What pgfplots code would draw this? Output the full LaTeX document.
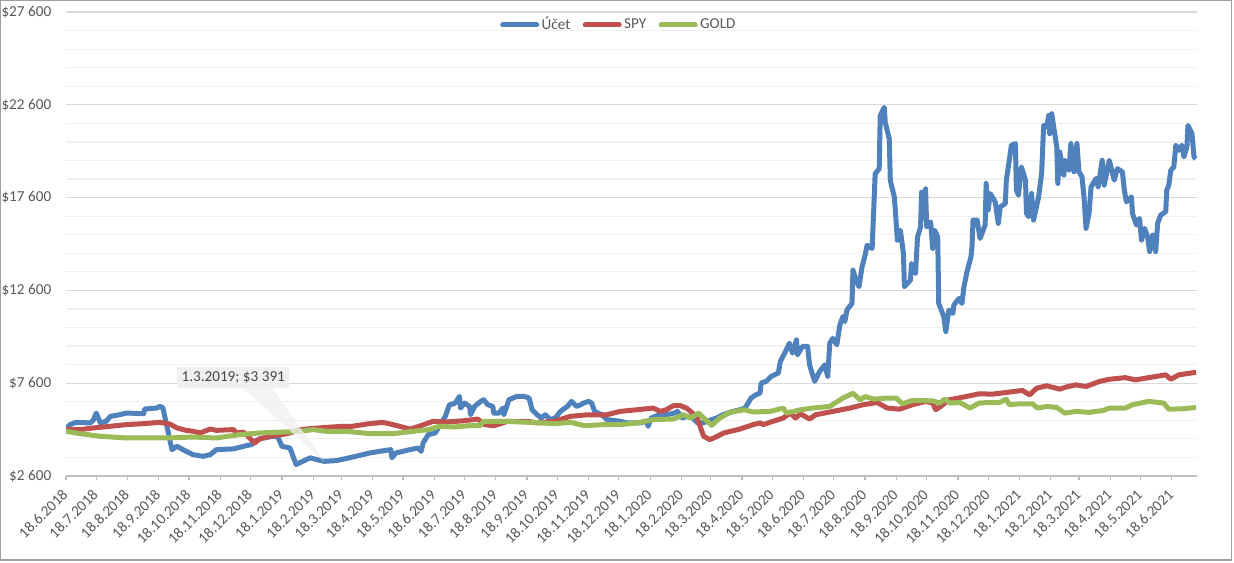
\documentclass[border=0pt]{standalone}
\usepackage{fontspec}
\setmainfont{Carlito}
\usepackage{pgfplots}
\pgfplotsset{compat=1.18}
\definecolor{ucet}{HTML}{4F81BD}
\definecolor{spy}{HTML}{C0504D}
\definecolor{gold}{HTML}{9BBB59}
\definecolor{txt}{HTML}{595959}
\definecolor{majgrid}{HTML}{D9D9D9}
\definecolor{mingrid}{HTML}{F0F0F0}
\definecolor{axgray}{HTML}{BFBFBF}
\definecolor{callout}{HTML}{F0F0F0}
\newcommand{\tfont}{\fontsize{7.6}{9}\selectfont}
\begin{document}
\begin{tikzpicture}[x=1pt,y=1pt]
\path[use as bounding box] (0,0) rectangle (617,281);
\fill[white] (0,0) rectangle (617,281);
\draw[gray!75, line width=0.7pt] (0.35,1) rectangle (615.75,280.65);
\begin{axis}[
  at={(33pt,43pt)}, anchor=south west,
  scale only axis, width=565.5pt, height=232pt,
  xmin=0, xmax=1121, ymin=2600, ymax=27600,
  axis x line=bottom, axis y line=left,
  x axis line style={-, draw=axgray, line width=0.6pt},
  y axis line style={draw=none},
  tick align=outside,
  major tick length=2.2pt,
  xtick style={draw=axgray, line width=0.6pt},
  ytick style={draw=none},
  minor tick style={draw=none},
  xtick={0,30,61,92,122,153,183,214,245,273,304,334,365,395,426,457,487,518,548,579,610,639,670,700,731,761,792,823,853,884,914,945,976,1004,1035,1065,1096},
  xticklabels={18.6.2018,18.7.2018,18.8.2018,18.9.2018,18.10.2018,18.11.2018,18.12.2018,18.1.2019,18.2.2019,18.3.2019,18.4.2019,18.5.2019,18.6.2019,18.7.2019,18.8.2019,18.9.2019,18.10.2019,18.11.2019,18.12.2019,18.1.2020,18.2.2020,18.3.2020,18.4.2020,18.5.2020,18.6.2020,18.7.2020,18.8.2020,18.9.2020,18.10.2020,18.11.2020,18.12.2020,18.1.2021,18.2.2021,18.3.2021,18.4.2021,18.5.2021,18.6.2021},
  xticklabel style={yshift=-5pt, xshift=0.3pt, rotate=45, anchor=east, font=\tfont, text=txt, inner sep=1pt},
  ytick={2600,7600,12600,17600,22600,27600},
  yticklabels={\$2 600,\$7 600,\$12 600,\$17 600,\$22 600,\$27 600},
  minor ytick={3600,4600,5600,6600,8600,9600,10600,11600,13600,14600,15600,16600,18600,19600,20600,21600,23600,24600,25600,26600},
  yticklabel style={font=\tfont, text=txt, anchor=east, inner sep=0pt, xshift=-5pt},
  ymajorgrids, yminorgrids,
  major grid style={draw=majgrid, line width=0.6pt},
  minor grid style={draw=mingrid, line width=0.6pt},
  legend style={at={(0.489,0.972)}, anchor=center, draw=none, fill=none,
    legend columns=3, font=\tfont, text=txt,
    /tikz/every even column/.append style={column sep=5pt},
    nodes={inner xsep=1.2pt, inner ysep=1pt}},
  legend image code/.code={\draw[#1, line cap=round] (0pt,0pt) -- (17pt,0pt);},
  every axis plot/.append style={line width=2.5pt, line join=round},
  clip=true,
]
\addplot[ucet] coordinates {
(0,5150)(4,5370)(10,5490)(24,5460)(27,5600)(30,5990)(34,5460)(40,5550)(44,5815)(53,5900)
(60,5990)(77,5960)(78,6210)(90,6260)(93,6350)(96,6280)(100,5280)(105,4020)(110,4200)(119,3930)
(126,3750)(136,3660)(143,3750)(149,4020)(166,4060)(179,4240)(184,4290)(187,4470)(192,4600)(205,4740)
(210,4700)(214,4200)(222,4110)(228,3220)(235,3400)(242,3580)(248,3490)(256,3391)(268,3430)(281,3580)
(301,3840)(311,3930)(322,4020)(323,3580)(327,3840)(341,4020)(349,4110)(352,3930)(354,4380)(359,4830)
(366,4920)(371,5370)(376,5815)(380,6440)(385,6500)(388,6710)(390,6890)(391,6260)(395,6530)(400,6350)
(401,5900)(405,6350)(411,6620)(414,6710)(418,6440)(423,6350)(424,5990)(429,5990)(433,6260)(434,5900)
(439,6710)(447,6890)(454,6890)(459,6800)(462,6170)(467,5900)(471,5725)(475,5900)(480,5640)(485,5725)
(490,6080)(497,6350)(501,6620)(506,6350)(510,6440)(513,6530)(518,6620)(521,6530)(524,6080)(531,5900)
(536,5640)(549,5550)(556,5460)(569,5460)(575,5550)(577,5280)(580,5725)(588,5900)(595,5900)(603,5990)
(606,6080)(611,5725)(615,5815)(621,5725)(626,5460)(631,5460)(636,5550)(640,5640)(645,5725)(651,5900)
(661,6080)(668,6170)(673,6260)(676,6530)(679,6800)(684,6980)(688,7070)(689,7608)(694,7700)(699,7970)
(706,8150)(708,8770)(714,9400)(717,9760)(720,9220)(724,9930)(725,9130)(730,9580)(735,9580)(737,8590)
(742,7700)(747,8230)(752,8590)(755,7970)(757,9760)(760,10020)(764,9670)(767,10740)(770,11190)(772,10920)
(774,11540)(779,11900)(780,13690)(782,13330)(786,12800)(789,13870)(792,14500)(794,15030)(799,14860)(802,18880)
(806,19150)(807,22010)(811,22460)(812,21650)(816,20760)(817,18520)(821,17630)(822,16910)(824,15300)(827,15840)
(830,14590)(831,12800)(837,13160)(838,14050)(842,13510)(844,15480)(847,16020)(848,17900)(850,16550)(852,18070)
(853,16020)(857,16290)(859,14860)(861,15840)(864,15480)(865,11900)(870,11190)(872,10380)(875,11540)(879,11360)
(880,11810)(885,12170)(888,11900)(890,12800)(893,13600)(897,14420)(898,14960)(899,16390)(903,16390)(906,15400)
(911,16120)(912,18360)(914,16930)(916,17820)(921,17370)(924,16210)(926,17100)(931,17280)(932,18540)(934,19250)
(937,20420)(941,20510)(942,18000)(944,17730)(947,19250)(951,18540)(952,16750)(954,16570)(957,17820)(959,16390)
(964,17640)(967,18900)(969,21490)(972,21400)(974,22030)(975,21040)(977,22120)(979,21400)(982,20330)(983,18360)
(985,20060)(989,18810)(990,19610)(994,19070)(996,20510)(999,18990)(1002,20510)(1004,18990)(1007,18720)(1009,17640)
(1011,15940)(1014,16750)(1016,18180)(1021,18630)(1023,18180)(1027,19610)(1029,18270)(1034,19610)(1039,18540)(1042,19160)
(1047,18990)(1049,18000)(1051,17370)(1056,17640)(1057,16750)(1061,16120)(1064,16480)(1066,15310)(1069,15940)(1072,15490)
(1074,14690)(1077,15580)(1080,14690)(1082,16210)(1085,16660)(1090,16840)(1091,18000)(1093,18270)(1095,19070)(1098,19250)
(1100,20420)(1103,20150)(1106,20420)(1108,19790)(1111,20330)(1112,21490)(1116,21040)(1118,19790)(1120,19700)
};
\addlegendentry{Účet}
\addplot[spy] coordinates {
(0,5100)(14,5100)(27,5190)(44,5280)(60,5370)(77,5420)(93,5490)(103,5400)(110,5190)(119,5060)
(126,5010)(133,4920)(143,5130)(149,5060)(166,5100)(169,4920)(176,4960)(182,4650)(187,4380)(192,4600)
(202,4740)(214,4830)(222,4920)(232,5100)(242,5150)(258,5220)(275,5280)(284,5280)(298,5400)(314,5490)
(324,5370)(341,5130)(350,5280)(364,5550)(377,5510)(395,5580)(408,5670)(415,5370)(424,5310)(438,5550)
(457,5550)(467,5460)(484,5550)(500,5815)(517,5900)(536,5900)(549,6080)(566,6170)(582,6260)(589,6080)
(595,6170)(602,6390)(609,6390)(615,6260)(625,5815)(632,4740)(638,4560)(642,4650)(652,4920)(668,5130)
(681,5370)(688,5460)(691,5370)(701,5550)(711,5725)(718,6000)(723,5725)(728,5950)(737,5670)(743,5900)
(760,6080)(777,6260)(790,6440)(804,6560)(814,6260)(826,6200)(839,6440)(852,6620)(859,6530)(862,6170)
(867,6350)(875,6700)(892,6880)(905,7030)(918,7010)(932,7100)(948,7210)(955,6970)(962,7330)(972,7460)
(985,7280)(991,7390)(1001,7510)(1011,7420)(1024,7690)(1034,7810)(1050,7900)(1060,7780)(1073,7900)(1090,8050)
(1095,7810)(1103,8050)(1120,8190)
};
\addlegendentry{SPY}
\addplot[gold] coordinates {
(0,5010)(14,4880)(34,4740)(60,4650)(80,4650)(100,4650)(126,4700)(149,4650)(172,4830)(192,4920)
(212,4960)(232,5010)(245,5100)(258,5010)(278,5010)(301,4880)(324,4880)(344,5010)(360,5100)(370,5280)
(384,5240)(400,5310)(410,5310)(414,5550)(433,5550)(460,5490)(484,5420)(500,5490)(514,5310)(533,5370)
(549,5370)(566,5460)(582,5640)(602,5670)(612,5900)(619,5725)(627,5990)(632,5725)(640,5330)(648,5725)
(658,6030)(672,6170)(681,6050)(698,6080)(711,6260)(714,5990)(728,6170)(740,6260)(757,6350)(770,6800)
(780,7060)(787,6700)(792,6880)(801,6740)(813,6800)(823,6800)(829,6490)(839,6670)(859,6650)(866,6530)
(871,6740)(876,6530)(886,6560)(896,6260)(905,6530)(915,6560)(925,6560)(932,6740)(935,6440)(945,6490)
(958,6490)(963,6260)(972,6350)(982,6290)(990,5990)(1001,6080)(1014,6030)(1028,6130)(1034,6260)(1050,6260)
(1057,6440)(1073,6620)(1088,6530)(1093,6200)(1106,6220)(1120,6290)
};
\addlegendentry{GOLD}
\fill[callout, opacity=0.75] (axis cs:175.4,7323) -- (axis cs:204.1,7323) -- (axis cs:256,3391) -- cycle;
\fill[callout] (axis cs:110.3,7323) rectangle (axis cs:221.2,8486);
\node[font=\tfont, text=txt!80!black, inner sep=0pt] at (axis cs:165.75,7905) {1.3.2019; \$3 391};
\end{axis}
\end{tikzpicture}
\end{document}
